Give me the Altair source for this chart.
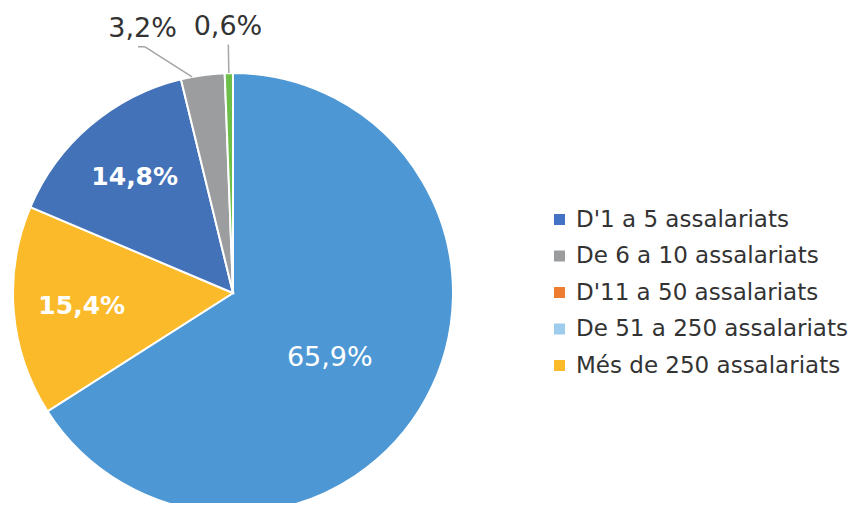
import altair as alt
import pandas as pd

# ---- data ----
slice_keys = ["s1", "s2", "s3", "s4", "s5"]
slice_values = [65.9, 15.4, 14.8, 3.2, 0.6]
slice_colors = ["#4D98D4", "#FBBA29", "#4472B9", "#9B9D9F", "#6CC04A"]

legend_labels = [
    "D'1 a 5 assalariats",
    "De 6 a 10 assalariats",
    "D'11 a 50 assalariats",
    "De 51 a 250 assalariats",
    "Més de 250 assalariats",
]
legend_colors = ["#4472C4", "#9B9C9E", "#ED7D31", "#9DCCEC", "#FBBA29"]

pie_df = pd.DataFrame({"key": slice_keys, "value": slice_values,
                       "ord": list(range(len(slice_keys)))})
leg_df = pd.DataFrame({"cat": legend_labels})

# ---- layout ----
W, H = 840, 495
R_PX = 220
CX, CY = 225, 285
FONT = "DejaVu Sans"
xs = alt.Scale(domain=[-CX / R_PX, (W - CX) / R_PX], nice=False, zero=False)
ys = alt.Scale(domain=[-(H - CY) / R_PX, CY / R_PX], nice=False, zero=False)
X0 = alt.XDatum(0, scale=xs, axis=None)
Y0 = alt.YDatum(0, scale=ys, axis=None)

base = alt.Chart(pie_df)

pie = base.mark_arc(radius=R_PX, stroke="white", strokeWidth=2).encode(
    theta=alt.Theta("value:Q", stack=True),
    order=alt.Order("ord:Q"),
    color=alt.Color("key:N", scale=alt.Scale(domain=slice_keys, range=slice_colors), legend=None),
    x=X0, y=Y0,
)

lab = base.transform_joinaggregate(total="sum(value)").transform_window(
    cum="sum(value)", sort=[alt.SortField("ord")]
).transform_calculate(
    mid="2*PI*(datum.cum - datum.value/2)/datum.total",
    txt="replace(format(datum.value, '.1f'), '.', ',') + '%'",
)

big = lab.transform_filter("datum.value >= 50").transform_calculate(
    lx="0.53*sin(datum.mid + 0.09)", ly="0.53*cos(datum.mid + 0.09)"
).mark_text(font=FONT, fontSize=27, color="white", align="center", baseline="middle").encode(
    x=alt.X("lx:Q", scale=xs, axis=None), y=alt.Y("ly:Q", scale=ys, axis=None), text="txt:N"
)

mid = lab.transform_filter("datum.value >= 5 && datum.value < 50").transform_calculate(
    lx="0.69*sin(datum.mid)", ly="0.69*cos(datum.mid)"
).mark_text(font=FONT, fontWeight="bold", fontSize=25, color="white", align="center", baseline="middle").encode(
    x=alt.X("lx:Q", scale=xs, axis=None), y=alt.Y("ly:Q", scale=ys, axis=None), text="txt:N"
)

small = lab.transform_filter("datum.value < 5").transform_window(
    rk="row_number()", sort=[alt.SortField("ord", order="descending")]
).transform_calculate(
    shift="-(datum.rk - 1)*0.244",
    lx="1.21*sin(datum.mid) + datum.shift", ly="1.21*cos(datum.mid)",
    sx="sin(datum.mid + 0.2*datum.shift)", sy="cos(datum.mid + 0.2*datum.shift)",
    ex="1.13*sin(datum.mid) + datum.shift", ey="1.13*cos(datum.mid)",
    tx="datum.ex - 0.032",
)

small_text = small.mark_text(font=FONT, fontSize=27, color="#333333", align="center", baseline="middle").encode(
    x=alt.X("lx:Q", scale=xs, axis=None), y=alt.Y("ly:Q", scale=ys, axis=None), text="txt:N"
)
leader = small.mark_rule(color="#A6A6A6", strokeWidth=1.5).encode(
    x=alt.X("sx:Q", scale=xs, axis=None), y=alt.Y("sy:Q", scale=ys, axis=None),
    x2="ex:Q", y2="ey:Q",
)
tail = small.transform_filter("datum.shift < 0").mark_rule(color="#A6A6A6", strokeWidth=1.5).encode(
    x=alt.X("ex:Q", scale=xs, axis=None), y=alt.Y("ey:Q", scale=ys, axis=None),
    x2="tx:Q",
)

leg = alt.Chart(leg_df).mark_square(opacity=0).encode(
    x=X0, y=Y0,
    color=alt.Color(
        "cat:N",
        scale=alt.Scale(domain=legend_labels, range=legend_colors),
        sort=legend_labels,
        legend=alt.Legend(
            title=None, orient="none", legendX=540, legendY=200,
            symbolType="square", symbolSize=121, symbolStrokeWidth=0, symbolOpacity=1,
            labelFont=FONT, labelFontSize=23, labelColor="#333333",
            labelOffset=5, rowPadding=12.5, labelLimit=400, padding=0,
        ),
    ),
)

chart = alt.layer(pie, big, mid, leader, tail, small_text, leg).resolve_scale(
    color="independent"
).properties(
    width=W, height=H, padding=0, autosize=alt.AutoSizeParams(type="none")
).configure_view(stroke=None)

chart.save("out.html", embed_options={"renderer": "svg", "actions": False})
